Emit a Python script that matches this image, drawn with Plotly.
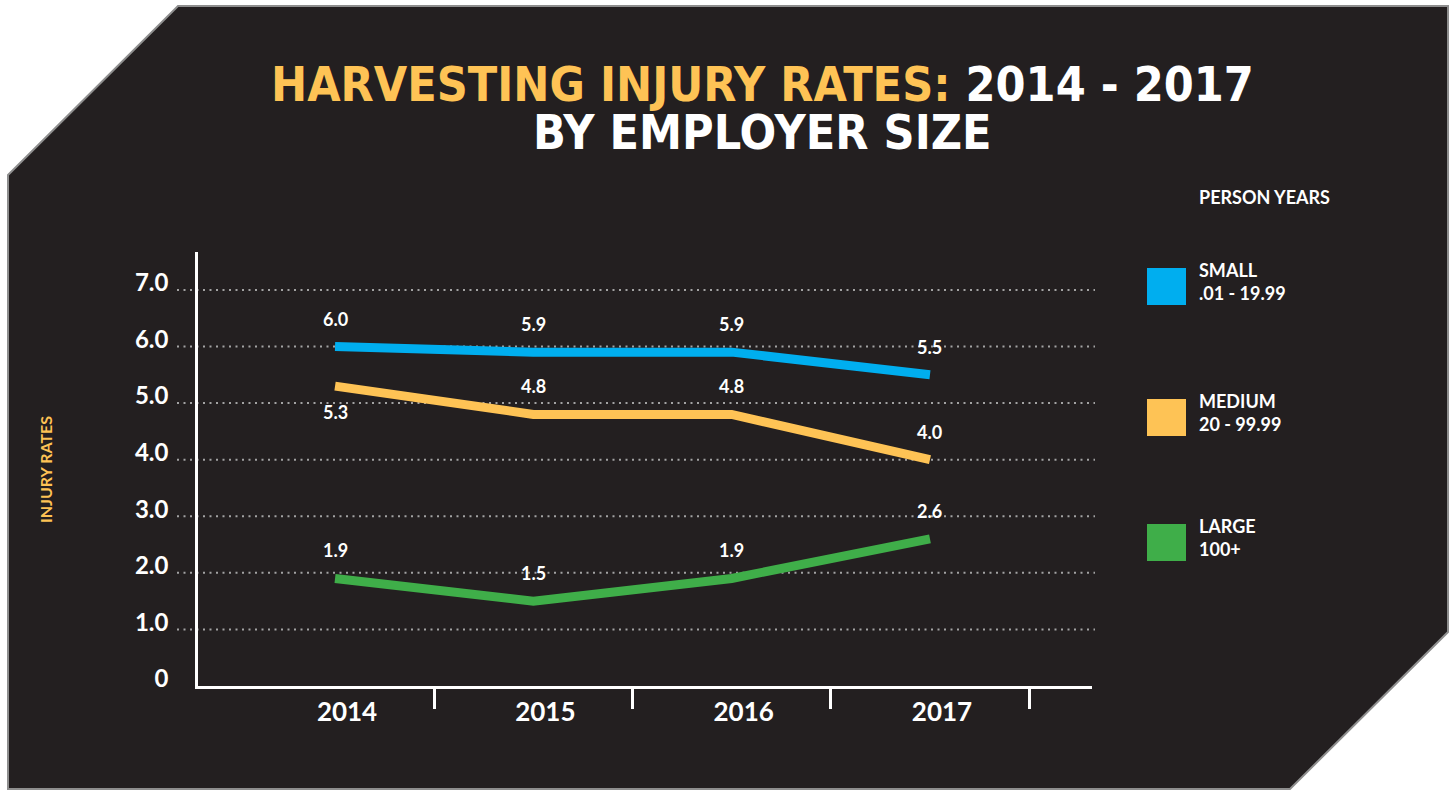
import plotly.graph_objects as go

# ---------------- data ----------------
years = ["2014", "2015", "2016", "2017"]
small = [6.0, 5.9, 5.9, 5.5]
medium = [5.3, 4.8, 4.8, 4.0]
large = [1.9, 1.5, 1.9, 2.6]
series_names = ["SMALL", "MEDIUM", "LARGE"]
series_ranges = [".01 - 19.99", "20 - 99.99", "100+"]
label_below = [[False] * 4, [True, False, False, False], [False] * 4]
y_tick_vals = [0, 1, 2, 3, 4, 5, 6, 7]
y_tick_text = ["0", "1.0", "2.0", "3.0", "4.0", "5.0", "6.0", "7.0"]

# ---------------- style ----------------
W, H = 1455, 791
BG = "#231f20"
BORDER = "#8e8e8e"
YELLOW = "#fec355"
colors = ["#00aeef", "#fec355", "#3fae49"]
FONT = "Lato, 'Open Sans', sans-serif"
TITLE_FONT = "'DejaVu Sans Condensed', 'DejaVu Sans', sans-serif"


def px(x):
    return x / W


def py(y):
    return 1 - y / H


series = [small, medium, large]
xidx = list(range(len(years)))

fig = go.Figure()
for name, vals, col in zip(series_names, series, colors):
    fig.add_trace(go.Scatter(x=xidx, y=vals, mode="lines", name=name,
                             line=dict(color=col, width=9), showlegend=False,
                             hoverinfo="skip"))

# background polygon with cut corners
poly = [(8, 175), (178, 6), (1448, 6), (1448, 632), (1290, 789), (8, 789)]
path = "M " + " L ".join(f"{px(a):.5f},{py(b):.5f}" for a, b in poly) + " Z"
shapes = [dict(type="path", xref="paper", yref="paper", path=path,
               fillcolor=BG, line=dict(color=BORDER, width=2), layer="below")]

# dotted gridlines (extend slightly left of the axis)
for v in y_tick_vals[1:]:
    shapes.append(dict(type="line", xref="paper", yref="y", x0=px(177), x1=px(1095),
                       y0=v, y1=v, line=dict(color="#a3a3a3", width=2, dash="2px,4.5px"),
                       layer="below"))

annotations = []
# data labels
for vals, below in zip(series, label_below):
    for i, (v, b) in enumerate(zip(vals, below)):
        annotations.append(dict(x=i, y=v, xref="x", yref="y", text=f"{v:.1f}",
                                showarrow=False, yshift=-26 if b else 28,
                                font=dict(family=FONT, size=18, color="white", weight="bold")))

# titles
annotations.append(dict(x=px(762), y=py(84), xref="paper", yref="paper", showarrow=False,
                        yanchor="middle",
                        text=f"<span style='color:{YELLOW}'>HARVESTING INJURY RATES:</span> 2014 - 2017",
                        font=dict(family=TITLE_FONT, size=48, color="white", weight="bold")))
annotations.append(dict(x=px(762), y=py(132), xref="paper", yref="paper", showarrow=False,
                        yanchor="middle",
                        text="BY EMPLOYER SIZE",
                        font=dict(family=TITLE_FONT, size=48, color="white", weight="bold")))
# y axis title
annotations.append(dict(x=px(45), y=py(470), xref="paper", yref="paper", showarrow=False,
                        xanchor="center", yanchor="middle",
                        text="INJURY RATES", textangle=-90,
                        font=dict(family=FONT, size=16, color=YELLOW, weight="bold")))
# legend
annotations.append(dict(x=px(1197), y=py(197), xref="paper", yref="paper", showarrow=False,
                        xanchor="left", yanchor="middle", text="PERSON YEARS",
                        font=dict(family=FONT, size=18, color="white", weight="bold")))
leg_tops = [268, 399, 524]
for name, rng, col, top in zip(series_names, series_ranges, colors, leg_tops):
    shapes.append(dict(type="rect", xref="paper", yref="paper", x0=px(1147), x1=px(1186),
                       y0=py(top + 37), y1=py(top), fillcolor=col, line=dict(width=0)))
    annotations.append(dict(x=px(1197), y=py(top + 13), xref="paper", yref="paper",
                            showarrow=False, xanchor="left", yanchor="middle",
                            text=f"{name}<br>{rng}", align="left",
                            font=dict(family=FONT, size=18, color="white", weight="bold")))

fig.update_layout(
    width=W, height=H, margin=dict(l=0, r=0, t=0, b=0),
    paper_bgcolor="white", plot_bgcolor="rgba(0,0,0,0)",
    shapes=shapes, annotations=annotations,
    xaxis=dict(domain=[px(198), px(1092)], range=[-0.691, 3.817],
               tickvals=xidx, ticktext=years, ticks="", showgrid=False, zeroline=False,
               showline=True, linecolor="white", linewidth=3,
               ticklabelshift=12, ticklabelstandoff=1,
               tickfont=dict(family=FONT, size=26, color="white", weight="bold"),
               minor=dict(tickvals=[i + 0.5 for i in xidx], ticks="outside", ticklen=20,
                          tickwidth=3, tickcolor="white", showgrid=False),
               fixedrange=True, automargin=False),
    yaxis=dict(domain=[py(686), py(252)], range=[0, 7.67],
               tickvals=y_tick_vals, ticktext=y_tick_text, ticks="", showgrid=False,
               zeroline=False, showline=True, linecolor="white", linewidth=2.5,
               ticklabelshift=-7, ticklabelstandoff=22,
               tickfont=dict(family=FONT, size=24, color="white", weight="bold"),
               fixedrange=True, automargin=False),
)

fig.write_html("out.html")
